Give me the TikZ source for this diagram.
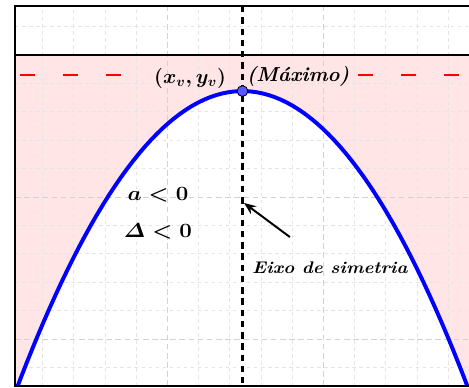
\documentclass[tikz,border=0pt]{standalone}
\usepackage{amsmath}
\usepackage{tikz}
\usetikzlibrary{arrows.meta,positioning}

\begin{document}
\begin{tikzpicture}[x=0.78cm,y=0.71cm,
  minorgrid/.style={gray!20,line width=0.5pt,dash pattern=on 2.5pt off 2.5pt},
  majorgrid/.style={gray!35,line width=0.6pt,dash pattern=on 4pt off 2.5pt},
  reddash/.style={red,line width=1.2pt,dash pattern=on 0.375cm off 0.7cm},
  lbl/.style={font=\Large\bfseries\boldmath,inner sep=1pt},
  biglbl/.style={font=\Large\bfseries\boldmath,inner sep=1pt,xscale=1.1,transform shape},
  smalllbl/.style={font=\large\bfseries\boldmath,inner sep=1pt,xscale=1.1,transform shape}]
\useasboundingbox (-7.772,-11.69) rectangle (7.26,1.937);
% pink region outside the curve
\begin{scope}
\clip (-7.292,-11.655) rectangle (7.26,0);
\fill[red!10] (-7.292,-11.655) rectangle (7.26,0);
\fill[white] plot[domain=-7.5:7.5,samples=80] (\x,{-1.27-0.2*\x*\x}) -- cycle;
\end{scope}
% grid
\foreach \k in {-6,-5,-4,-3,-1,0,1,2,4,5,6,7}
  \draw[minorgrid] (\k-0.41,-11.655) -- (\k-0.41,1.725);
\foreach \k in {-2,3}
  \draw[majorgrid] (\k-0.41,-11.655) -- (\k-0.41,1.725);
\foreach \j in {1,-1,-2,-3,-4,-6,-7,-8,-9,-11}
  \draw[minorgrid] (-7.292,\j) -- (7.26,\j);
\foreach \j in {-5,-10}
  \draw[majorgrid] (-7.292,\j) -- (7.26,\j);
% y_v level
\draw[reddash] (-7.131,-0.70) -- (-3.894,-0.70);
\draw[reddash] (3.702,-0.70) -- (7.26,-0.70);
% curve
\begin{scope}
\clip (-7.292,-11.655) rectangle (7.26,0);
\draw[blue,line width=2.8pt] plot[domain=-7.5:7.5,samples=80] (\x,{-1.27-0.2*\x*\x});
\end{scope}
% frame and x axis
\draw[line width=1.4pt] (7.26,1.725) -- (-7.292,1.725) -- (-7.292,-11.655) -- (7.26,-11.655);
\draw[line width=2.1pt] (-7.292,0) -- (7.26,0);
% symmetry axis
\coordinate (axtop) at (0,1.725);
\coordinate (axbot) at (0,-11.655);
\draw[line width=2pt,dash pattern=on 4.5pt off 3.5pt] (axtop) -- (axbot);
\node[circle,draw,line width=0.6pt,fill=blue!65,inner sep=0pt,minimum size=0.27cm] (vtx) at (0,-1.27) {};
\node[lbl] (vlab) at (-1.68,-0.81) {$(x_v,y_v)$};
\node[lbl] (maxlab) at (1.78,-0.74) {\itshape(Máximo)};
\node[biglbl] (alab) at (-2.71,-4.93) {$a<0$};
\node[biglbl] (dlab) at (-2.71,-6.20) {$\varDelta<0$};
\node[smalllbl] (eixo) at (2.80,-7.50) {\itshape Eixo de simetria};
\coordinate (tail) at (1.52,-6.41);
\coordinate (tip) at (0.05,-5.21);
\draw[-{Stealth[length=3mm,width=2.4mm]},line width=1.4pt] (tail) -- (tip);
\end{tikzpicture}
\end{document}
